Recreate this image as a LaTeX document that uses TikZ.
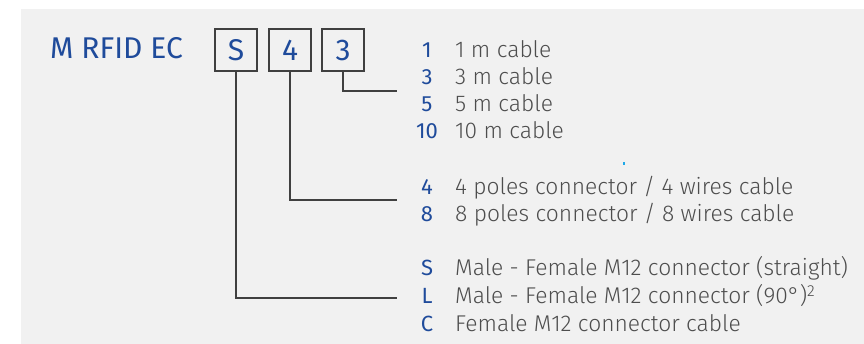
\documentclass[tikz,border=0pt]{standalone}
\usepackage{fontspec}
\setmainfont{Fira Sans}
\newfontfamily\lightfont{Fira Sans}[UprightFont=* Light]
\definecolor{panel}{HTML}{F1F1F1}
\definecolor{codeblue}{HTML}{1F4B9B}
\definecolor{txtgrey}{HTML}{4D4D4D}
\definecolor{linegrey}{HTML}{404040}
\definecolor{dotcyan}{HTML}{1FA8E8}
\begin{document}
\begin{tikzpicture}[x=1pt,y=-1pt,
  codebox/.style={draw=linegrey,line width=2pt,minimum width=42pt,minimum height=42pt,inner sep=0pt,text=codeblue,font=\fontsize{30}{30}\selectfont},
  conn/.style={draw=linegrey,line width=2pt},
  code/.style={anchor=base,text=codeblue,inner sep=0pt,font=\fontsize{22}{23}\selectfont},
  desc/.style={anchor=base west,text=txtgrey,inner sep=0pt,font=\lightfont\fontsize{22.8}{23}\selectfont},
  title/.style={anchor=base west,text=codeblue,inner sep=0pt,font=\fontsize{30}{30}\selectfont}]
\useasboundingbox (0,0) rectangle (864,344);
\fill[panel] (21,9) rectangle (864,344);
\node[title] (ttl) at (50,59) {M RFID EC};
\node[codebox] (bS) at (236,50) {S};
\node[codebox] (b4) at (290,50) {4};
\node[codebox] (b3) at (343,50) {3};
% codes and descriptions
\node[code] (c1) at (427,57.5) {1};
\node[desc] (d1) at (455,57.5) {1 m cable};
\node[code] (c3) at (427,85) {3};
\node[desc] (d3) at (455,85) {3 m cable};
\node[code] (c5) at (427,112) {5};
\node[desc] (d5) at (455,112) {5 m cable};
\node[code] (c10) at (427,139) {10};
\node[desc] (d10) at (455,139) {10 m cable};
\node[code] (c4) at (427,195) {4};
\node[desc] (d4) at (455,195) {4 poles connector / 4 wires cable};
\node[code] (c8) at (427,222) {8};
\node[desc] (d8) at (455,222) {8 poles connector / 8 wires cable};
\node[code] (cS) at (427,276) {S};
\node[desc] (dS) at (455,276) {Male - Female M12 connector (straight)};
\node[code] (cL) at (427,304) {L};
\node[desc] (dL) at (455,304) {Male - Female M12 connector (90°)\textsuperscript{2}};
\node[code] (cC) at (427,331) {C};
\node[desc] (dC) at (455,331) {Female M12 connector cable};
% connector ends
\coordinate (e3) at (397,91);
\coordinate (e4) at (397,200);
\coordinate (eS) at (397,298);
\draw[conn] (b3.south) |- (e3);
\draw[conn] (b4.south) |- (e4);
\draw[conn] (bS.south) |- (eS);
% small stray mark
\fill[dotcyan] (623,162) rectangle (625,165);
\end{tikzpicture}
\end{document}
